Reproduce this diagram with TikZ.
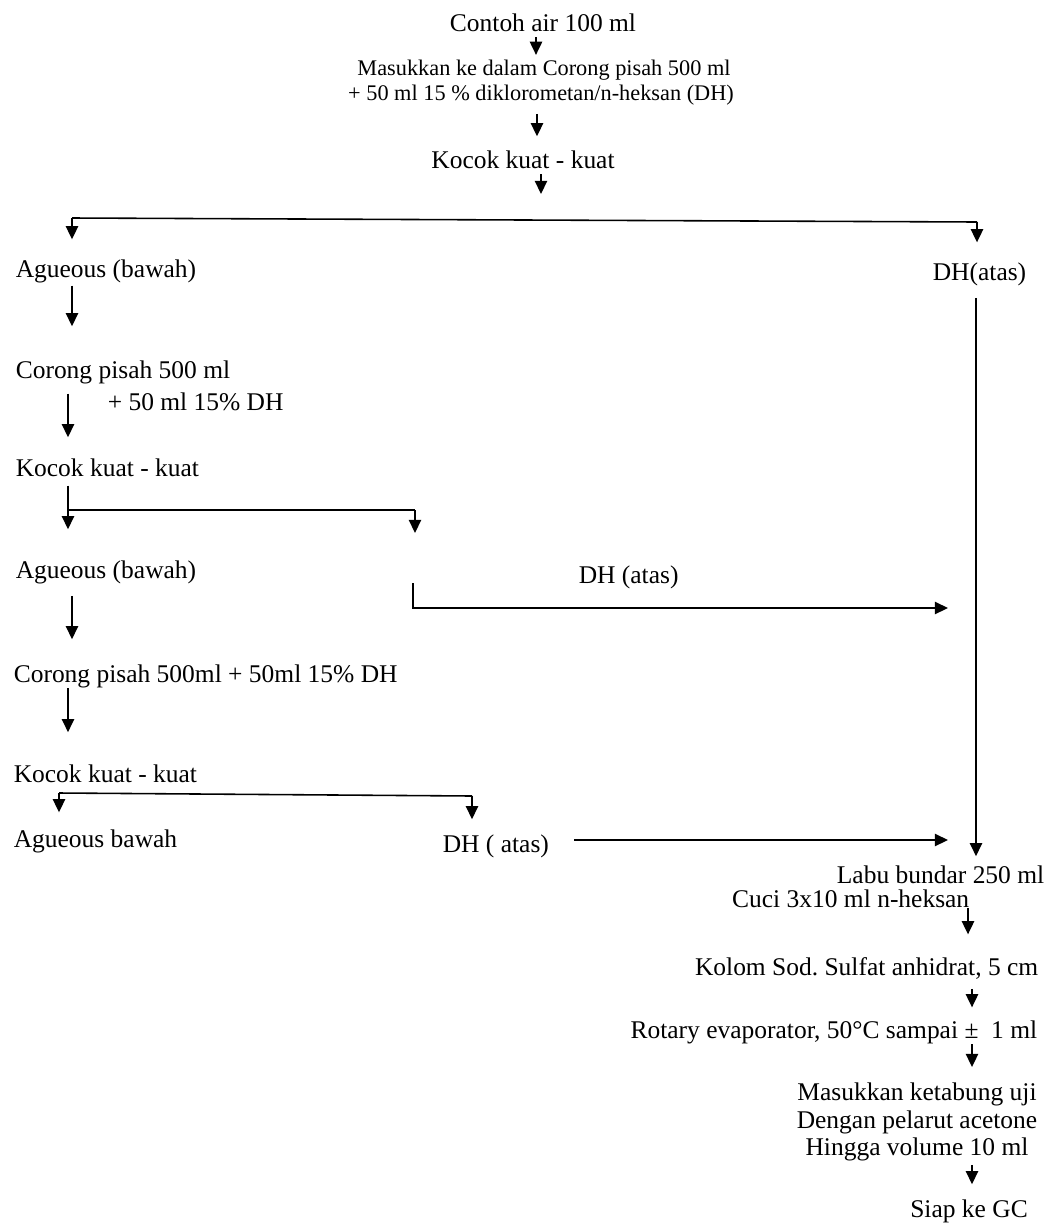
\documentclass[tikz,border=0pt]{standalone}
\usepackage{fontspec}
\setmainfont{Liberation Serif}
\usepackage{tikz}
\usetikzlibrary{arrows.meta}

\begin{document}
\begin{tikzpicture}[x=0.02cm,y=-0.02cm,line width=0.9pt,
    >={Triangle[length=7.5pt,width=7pt]},
    txt/.style={inner sep=0pt,font=\fontsize{14.5}{17}\selectfont,text height=10pt,text depth=3pt},
    txts/.style={txt,font=\fontsize{12.7}{15}\selectfont},
    txtm/.style={inner sep=0pt,font=\fontsize{14.5}{15.65}\selectfont,align=center}]
  \useasboundingbox (0,0) rectangle (1052,1231);
  % top
  \node[txt,anchor=base] (contoh) at (543,31) {Contoh air 100 ml};
  \node[txts,anchor=base] (masuk) at (544,75) {Masukkan ke dalam Corong pisah 500 ml};
  \node[txts,anchor=base] (tambah) at (541,100) {+ 50 ml 15 \% diklorometan/n-heksan (DH)};
  \node[txt,anchor=base] (kocok) at (523,168) {Kocok kuat - kuat};
  % left column
  \node[txt,anchor=base west] (air1) at (15,277) {Agueous (bawah)};
  \node[txt,anchor=base east] (dh1) at (1027,280) {DH(atas)};
  \node[txt,anchor=base west] (corong1) at (15,378) {Corong pisah 500 ml};
  \node[txt,anchor=base west] (tambah1) at (107,410) {+ 50 ml 15\% DH};
  \node[txt,anchor=base west] (kocok1) at (15,476) {Kocok kuat - kuat};
  \node[txt,anchor=base west] (air2) at (15,578) {Agueous (bawah)};
  \node[txt,anchor=base west] (dh2) at (578,583) {DH (atas)};
  \node[txt,anchor=base west] (corong2) at (13,682) {Corong pisah 500ml + 50ml 15\% DH};
  \node[txt,anchor=base west] (kocok2) at (13,782) {Kocok kuat - kuat};
  \node[txt,anchor=base west] (air3) at (13,847) {Agueous bawah};
  \node[txt,anchor=base west] (dh3) at (442,852) {DH ( atas)};
  % right column
  \node[txt,anchor=base east] (labu) at (1045,883) {Labu bundar 250 ml};
  \node[txt,anchor=base east] (cuci) at (970,907) {Cuci 3x10 ml n-heksan};
  \node[txt,anchor=base east] (kolom) at (1039,975) {Kolom Sod.\ Sulfat anhidrat, 5 cm};
  \node[txt,anchor=base east] (rotary) at (1038,1038) {Rotary evaporator, 50°C sampai ±~ 1 ml};
  \node[txtm,anchor=north] (tabung) at (917,1082.5) {Masukkan ketabung uji\\Dengan pelarut acetone\\Hingga volume 10 ml};
  \node[txt,anchor=base] (siap) at (969,1217) {Siap ke GC};

  \coordinate (mid1) at (536,0);
  \coordinate (mid2) at (537,0);
  \coordinate (left1) at (72,0);
  \coordinate (left2) at (68,0);
  \coordinate (right1) at (976,0);
  \coordinate (right2) at (968,0);
  \coordinate (right3) at (972,0);

  \draw[->,shorten >=1pt] (contoh.south -| mid1) -- (masuk.north -| mid1);
  \draw[->,shorten <=4.4pt,shorten >=7.6pt] (tambah.south -| mid2) -- (kocok.north -| mid2);
  \coordinate (gap) at (541,194);
  \draw[->] (kocok.south -| gap) -- (gap);
  % first split
  \coordinate (split1a) at (72,218);
  \coordinate (split1b) at (977,222);
  \draw (split1a) -- (split1b);
  \draw[->,shorten >=11pt] (split1a) -- (air1.north -| split1a);
  \draw[->,shorten >=11pt] (split1b) -- (dh1.north -| split1b);
  \draw[->,shorten <=1.5pt,shorten >=19pt] (air1.south -| left1) -- (corong1.north -| left1);
  \draw[->,shorten <=6.7pt,shorten >=4.8pt] (dh1.south -| right1) -- (labu.north -| right1);
  \draw[->,shorten <=5.5pt,shorten >=11.6pt] (corong1.south -| left2) -- (kocok1.north -| left2);
  % second split
  \coordinate (split2a) at (68,510);
  \coordinate (split2b) at (415,510);
  \coordinate (tip2) at (415,533);
  \draw[->,shorten <=2pt,shorten >=17.3pt] (kocok1.south -| split2a) -- (air2.north -| split2a);
  \draw (split2a) -- (split2b);
  \draw[->] (split2b) -- (tip2);
  \coordinate (turn2) at (413,583);
  \coordinate (end2) at (948,608);
  \draw[->] (turn2) |- (end2);
  \draw[->,shorten <=6.7pt,shorten >=13.9pt] (air2.south -| left1) -- (corong2.north -| left1);
  \draw[->,shorten >=17.9pt] (corong2.south -| left2) -- (kocok2.north -| left2);
  % third split
  \coordinate (split3a) at (59,793);
  \coordinate (split3b) at (472,796);
  \draw (split3a) -- (split3b);
  \draw[->,shorten >=9.3pt] (split3a) -- (air3.north -| split3a);
  \draw[->,shorten >=8.2pt] (split3b) -- (dh3.north -| split3b);
  \coordinate (end3) at (948,840);
  \draw[->,shorten <=14pt] (dh3.east |- end3) -- (end3);
  % right column
  \draw[->,shorten <=-3pt,shorten >=12.7pt] (cuci.south -| right2) -- (kolom.north -| right2);
  \draw[->,shorten <=4.4pt,shorten >=7pt] (kolom.south -| right3) -- (rotary.north -| right3);
  \draw[->,shorten >=8.8pt] (rotary.south -| right3) -- (tabung.north -| right3);
  \draw[->,shorten <=1.5pt,shorten >=8.2pt] (tabung.south -| right3) -- (siap.north -| right3);
\end{tikzpicture}
\end{document}
